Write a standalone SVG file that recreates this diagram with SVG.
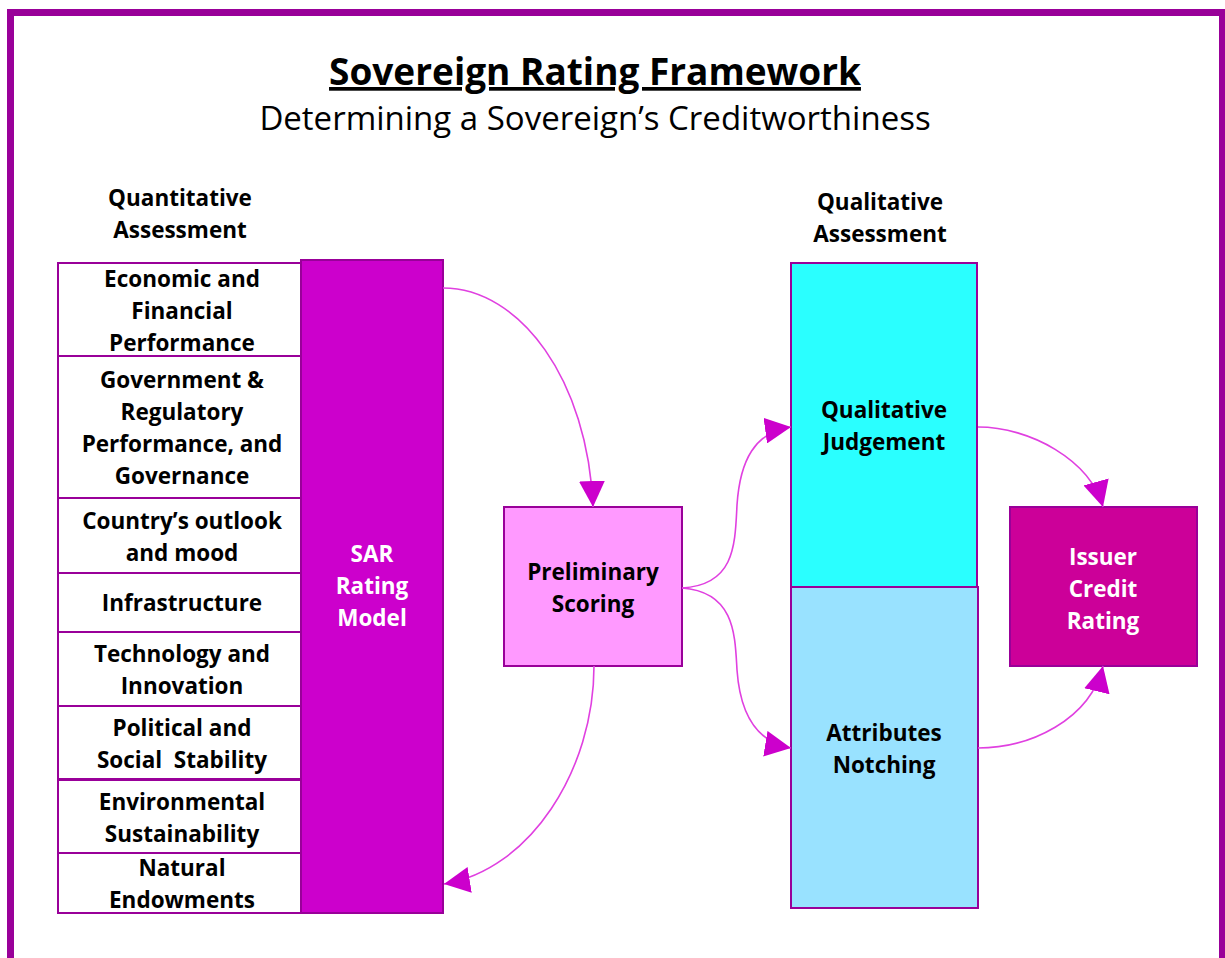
<svg xmlns="http://www.w3.org/2000/svg" width="1225" height="958" viewBox="0 0 1225 958">
<style>
.t{font-family:"Open Sans","DejaVu Sans",sans-serif;font-weight:bold;font-size:22.5px;fill:#000;text-anchor:middle}
.w{fill:#fff}
.box{stroke:#990099;stroke-width:2}
.c{fill:none;stroke:#E040E0;stroke-width:1.6}
</style>
<defs>
<marker id="ah" markerUnits="userSpaceOnUse" markerWidth="26" markerHeight="26" viewBox="0 0 26 26" refX="26" refY="13" orient="auto">
<path d="M0,0 L26,13 L0,26 Z" fill="#CC00CC"/>
</marker>
</defs>
<rect x="0" y="0" width="1225" height="958" fill="#fff"/>
<rect x="10.5" y="12.5" width="1212" height="980" fill="none" stroke="#990099" stroke-width="7"/>
<g id="title">
<text x="595" y="85" font-family="Open Sans, DejaVu Sans, sans-serif" font-weight="bold" font-size="37" text-anchor="middle" text-decoration="underline">Sovereign Rating Framework</text>
<text x="595" y="130" font-family="Open Sans, DejaVu Sans, sans-serif" font-size="33" text-anchor="middle">Determining a Sovereign’s Creditworthiness</text>
</g>
<g id="quant-header"><text class="t" x="180" y="206">Quantitative</text><text class="t" x="180" y="238">Assessment</text></g>
<g id="qual-header"><text class="t" x="880" y="210">Qualitative</text><text class="t" x="880" y="242">Assessment</text></g>
<g id="f1"><rect class="box" x="58" y="263" width="243" height="93" fill="#fff"/><text class="t" x="182" y="287">Economic and</text><text class="t" x="182" y="319">Financial</text><text class="t" x="182" y="351">Performance</text></g>
<g id="f2"><rect class="box" x="58" y="356" width="243" height="142" fill="#fff"/><text class="t" x="182" y="388">Government &amp;</text><text class="t" x="182" y="420">Regulatory</text><text class="t" x="182" y="452">Performance, and</text><text class="t" x="182" y="484">Governance</text></g>
<g id="f3"><rect class="box" x="58" y="498" width="243" height="75" fill="#fff"/><text class="t" x="182" y="529">Country’s outlook</text><text class="t" x="182" y="561">and mood</text></g>
<g id="f4"><rect class="box" x="58" y="573" width="243" height="59" fill="#fff"/><text class="t" x="182" y="611">Infrastructure</text></g>
<g id="f5"><rect class="box" x="58" y="632" width="243" height="74" fill="#fff"/><text class="t" x="182" y="662">Technology and</text><text class="t" x="182" y="694">Innovation</text></g>
<g id="f6"><rect class="box" x="58" y="706" width="243" height="73" fill="#fff"/><text class="t" x="182" y="736">Political and</text><text class="t" x="182" y="768" xml:space="preserve">Social  Stability</text></g>
<g id="f7"><rect class="box" x="58" y="780" width="243" height="73" fill="#fff"/><text class="t" x="182" y="810">Environmental</text><text class="t" x="182" y="842">Sustainability</text></g>
<g id="f8"><rect class="box" x="58" y="853" width="243" height="60" fill="#fff"/><text class="t" x="182" y="876">Natural</text><text class="t" x="182" y="908">Endowments</text></g>
<g id="sar"><rect class="box" x="301" y="260" width="142" height="653" fill="#CC00CC"/><text class="t w" x="372" y="562">SAR</text><text class="t w" x="372" y="594">Rating</text><text class="t w" x="372" y="626">Model</text></g>
<g id="prelim"><rect class="box" x="504" y="507" width="178" height="159" fill="#FF99FF"/><text class="t" x="593" y="580">Preliminary</text><text class="t" x="593" y="612">Scoring</text></g>
<g id="qj"><rect class="box" x="791" y="263" width="186" height="324" fill="#2AFFFF"/><text class="t" x="884" y="418">Qualitative</text><text class="t" x="884" y="450">Judgement</text></g>
<g id="an"><rect class="box" x="791" y="587" width="187" height="321" fill="#99E2FF"/><text class="t" x="884" y="741">Attributes</text><text class="t" x="884" y="773">Notching</text></g>
<g id="icr"><rect class="box" x="1010" y="507" width="187" height="159" fill="#CC0099"/><text class="t w" x="1103" y="565">Issuer</text><text class="t w" x="1103" y="597">Credit</text><text class="t w" x="1103" y="629">Rating</text></g>
<g id="connectors">
<path class="c" d="M443,288 C520,288 588,380 593,507" marker-end="url(#ah)"/>
<path class="c" d="M594,666 C594,770 530,870 444,884" marker-end="url(#ah)"/>
<path class="c" d="M682,588 C735,585 735,545 737,505 C740,460 755,432 791,427" marker-end="url(#ah)"/>
<path class="c" d="M682,588 C735,592 735,635 737,670 C740,712 755,742 791,748" marker-end="url(#ah)"/>
<path class="c" d="M978,427 C1030,427 1090,460 1103,507" marker-end="url(#ah)"/>
<path class="c" d="M978,748 C1030,748 1090,720 1103,666" marker-end="url(#ah)"/>
</g>
</svg>
